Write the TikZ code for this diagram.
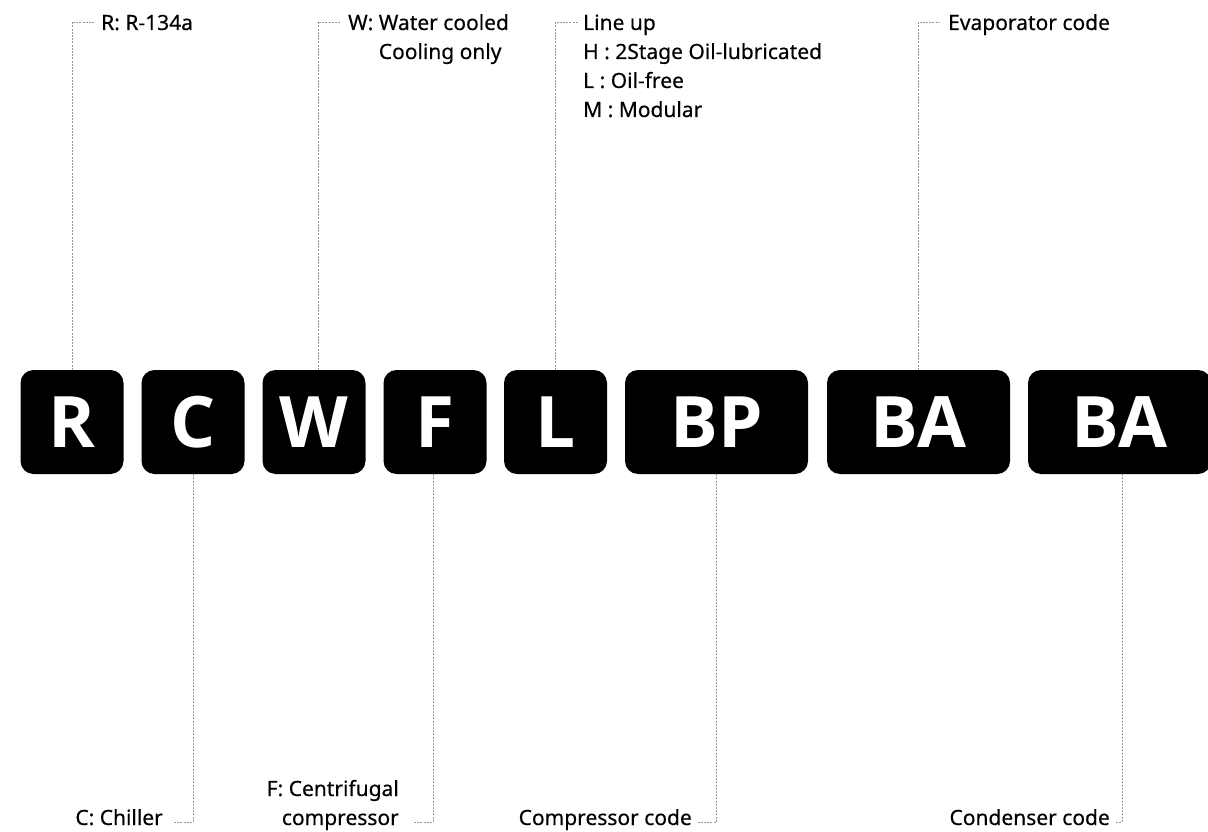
\documentclass[tikz,border=0pt]{standalone}
\usepackage{fontspec}
\setmainfont{Noto Sans}
\newfontfamily\lblfont{Noto Sans}[FakeBold=0.35]
\newfontfamily\codefont{Open Sans}
\begin{document}
\begin{tikzpicture}[x=1pt,y=-1pt,
  code/.style={fill=black, rounded corners=13pt, minimum height=104pt, inner sep=0pt, text=white, font=\codefont\bfseries\fontsize{71}{71}\selectfont},
  sq/.style={code, minimum width=103pt},
  wide/.style={code, minimum width=183pt},
  lbl/.style={inner sep=0pt, font=\lblfont\fontsize{21}{29}\selectfont, text=black},
  conn/.style={draw=black!40, line width=0.8pt, dash pattern=on 2pt off 1.2pt}]
\useasboundingbox (0,0) rectangle (1208,832);
% code boxes
\node[sq] (R) at (72,422) {R};
\node[sq] (C) at (193,422) {C};
\node[sq] (W) at (314,422) {W};
\node[sq] (F) at (435,422) {F};
\node[sq] (L) at (555.5,422) {L};
\node[wide] (BP) at (716.5,422) {BP};
\node[wide] (BA1) at (918.5,422) {BA};
\node[wide] (BA2) at (1119.5,422) {BA};
% labels
\node[lbl, anchor=base west] (lR) at (101,30) {R: R-134a};
\node[lbl, anchor=base west] (lW) at (348,30) {\begin{tabular}[t]{@{}l@{}}W: Water cooled\\\phantom{W: }Cooling only\end{tabular}};
\node[lbl, anchor=base west] (lL) at (583,30) {\begin{tabular}[t]{@{}l@{}}Line up\\H : 2Stage Oil-lubricated\\L : Oil-free\\M : Modular\end{tabular}};
\node[lbl, anchor=base west] (lE) at (948,30) {Evaporator code};
\node[lbl, anchor=base east] (lC) at (163,825) {C: Chiller};
\node[lbl, anchor=base east] (lF) at (399,825) {\begin{tabular}[b]{@{}r@{}}F: Centrifugal\\compressor\end{tabular}};
\node[lbl, anchor=base east] (lBP) at (692,825) {Compressor code};
\node[lbl, anchor=base east] (lBA) at (1110,825) {Condenser code};
% connector ends
\coordinate (eR) at (94,22);
\coordinate (eW) at (340,22);
\coordinate (eL) at (578,22);
\coordinate (eE) at (940,22);
\coordinate (eC) at (173,822);
\coordinate (eF) at (413,822);
\coordinate (eBP) at (697,822);
\coordinate (eBA) at (1115,822);
% connectors
\draw[conn] (R.north) |- (eR);
\draw[conn] ([xshift=4pt]W.north) |- (eW);
\draw[conn] (L.north) |- (eL);
\draw[conn] (BA1.north) |- (eE);
\draw[conn] (C.south) |- (eC);
\draw[conn] ([xshift=-2pt]F.south) |- (eF);
\draw[conn] (BP.south) |- (eBP);
\draw[conn] ([xshift=2.5pt]BA2.south) |- (eBA);
\end{tikzpicture}
\end{document}
